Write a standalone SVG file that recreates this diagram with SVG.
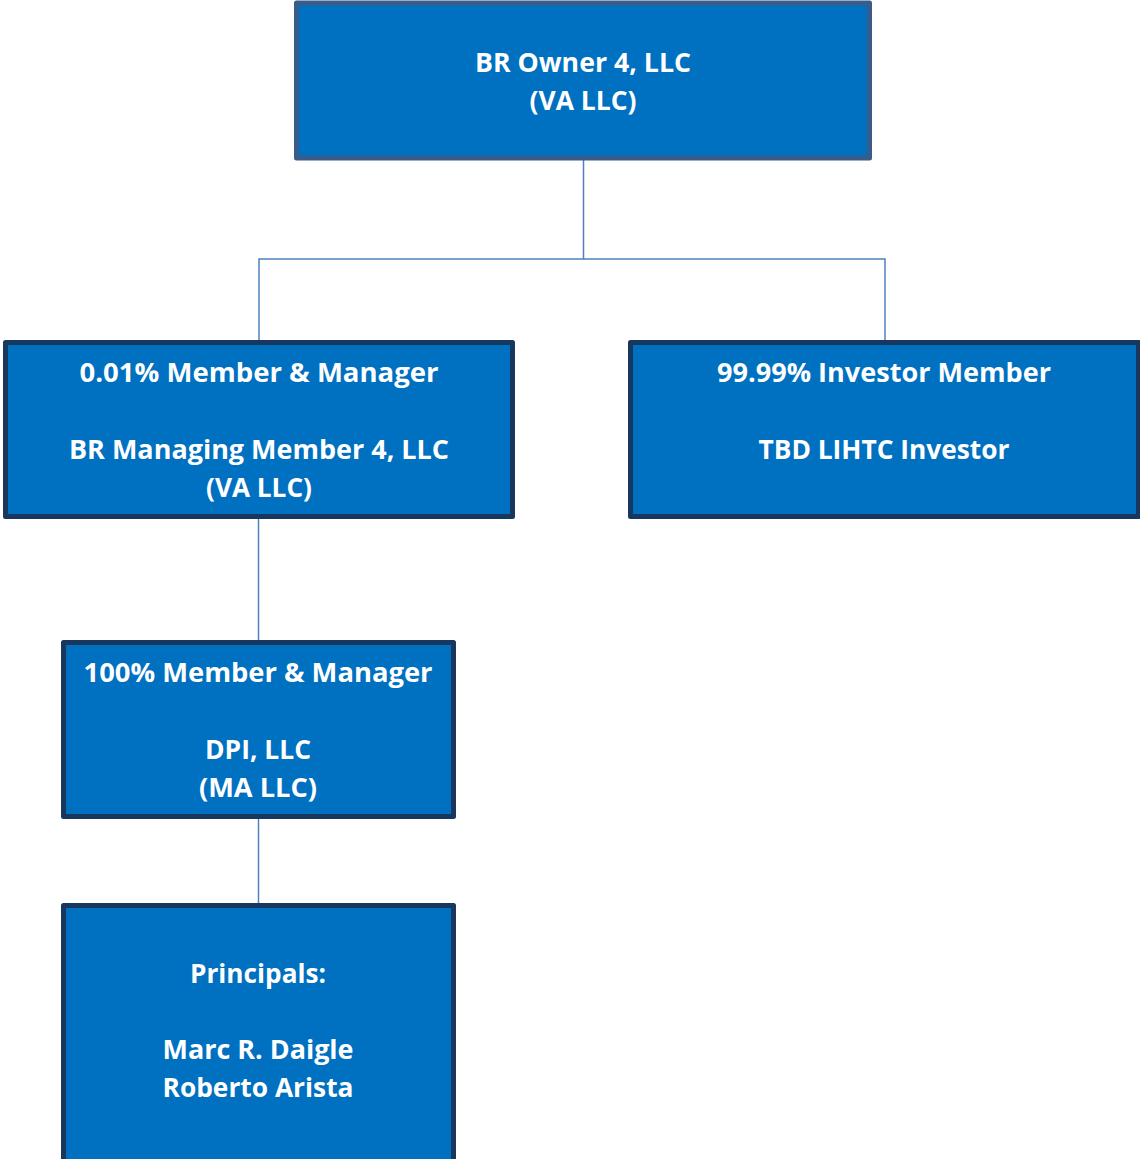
<svg xmlns="http://www.w3.org/2000/svg" width="1140" height="1159" viewBox="0 0 1140 1159">
<style>
.box{fill:#0070c0;stroke:#17375e;stroke-width:5;stroke-linejoin:round}
.top{stroke:#385d8a}
.t{font-family:"Open Sans","Lato","Liberation Sans",sans-serif;font-weight:bold;font-size:27.5px;fill:#ffffff;text-anchor:middle}
.c{stroke:#4f81bd;stroke-width:1.5;fill:none}
</style>
<rect width="1140" height="1159" fill="#ffffff"/>
<g id="connectors">
<polyline class="c" points="583.5,160 583.5,259 259,259 259,341"/>
<polyline class="c" points="583.5,259 885,259 885,341"/>
<line class="c" x1="258.5" y1="519" x2="258.5" y2="641"/>
<line class="c" x1="258.5" y1="819" x2="258.5" y2="903"/>
</g>
<g id="node-owner">
<rect class="box top" x="296.5" y="3" width="573" height="155"/>
<text class="t" x="583" y="72" textLength="216" lengthAdjust="spacingAndGlyphs">BR Owner 4, LLC</text>
<text class="t" x="583" y="110" textLength="107" lengthAdjust="spacingAndGlyphs">(VA LLC)</text>
</g>
<g id="node-managing">
<rect class="box" x="5.5" y="342.5" width="507" height="174"/>
<text class="t" x="259" y="382" textLength="359" lengthAdjust="spacingAndGlyphs">0.01% Member &amp; Manager</text>
<text class="t" x="259" y="459" textLength="380" lengthAdjust="spacingAndGlyphs">BR Managing Member 4, LLC</text>
<text class="t" x="259" y="497" textLength="106" lengthAdjust="spacingAndGlyphs">(VA LLC)</text>
</g>
<g id="node-investor">
<rect class="box" x="630.5" y="342.5" width="508" height="174"/>
<text class="t" x="884" y="382" textLength="334" lengthAdjust="spacingAndGlyphs">99.99% Investor Member</text>
<text class="t" x="884" y="459" textLength="251" lengthAdjust="spacingAndGlyphs">TBD LIHTC Investor</text>
</g>
<g id="node-dpi">
<rect class="box" x="63.5" y="642.5" width="390" height="174"/>
<text class="t" x="258" y="682" textLength="349" lengthAdjust="spacingAndGlyphs">100% Member &amp; Manager</text>
<text class="t" x="258" y="759" textLength="106" lengthAdjust="spacingAndGlyphs">DPI, LLC</text>
<text class="t" x="258" y="797" textLength="118" lengthAdjust="spacingAndGlyphs">(MA LLC)</text>
</g>
<g id="node-principals">
<rect class="box" x="63.5" y="905.5" width="390" height="260"/>
<text class="t" x="258" y="983" textLength="136" lengthAdjust="spacingAndGlyphs">Principals:</text>
<text class="t" x="258" y="1059" textLength="191" lengthAdjust="spacingAndGlyphs">Marc R. Daigle</text>
<text class="t" x="258" y="1097" textLength="191" lengthAdjust="spacingAndGlyphs">Roberto Arista</text>
</g>
</svg>
